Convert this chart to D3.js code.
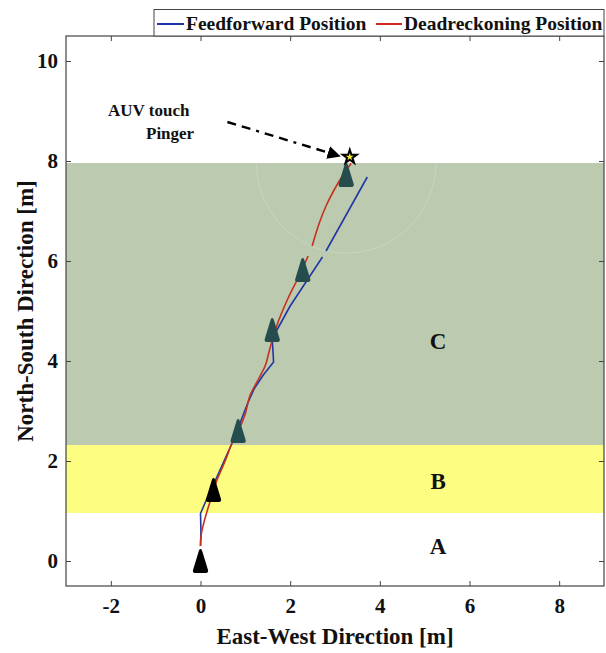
<!DOCTYPE html>
<html><head><meta charset="utf-8">
<script src="https://cdn.jsdelivr.net/npm/d3@7"></script>
<style>body{margin:0;background:#fff}svg{display:block}text{font-family:"Liberation Serif","Times New Roman",serif;font-weight:bold}</style>
</head><body><svg id="c" width="606" height="653"></svg>
<script>
const xTicks=[-2,0,2,4,6,8];
const yTicks=[0,2,4,6,8,10];
const zones=[{name:"A",y0:-0.5,y1:0.96,color:"#ffffff"},{name:"B",y0:0.96,y1:2.32,color:"#fdfd82"},{name:"C",y0:2.32,y1:7.96,color:"#bccbb0"}];
const zoneLabels=[{t:"C",x:5.3,y:4.4},{t:"B",x:5.3,y:1.6},{t:"A",x:5.3,y:0.3}];
const feedforward=[[0,0.3],[0.01,0.6],[0,0.95],[0.12,1.2],[0.3,1.55],[0.5,1.95],[0.7,2.35],[0.9,2.8],[1.05,3.15],[1.2,3.45],[1.4,3.72],[1.63,3.98],[1.6,4.45],[2.0,5.1],[2.72,6.08],null,[2.8,6.2],[3.72,7.68]];
const deadreckoning=[[0,0.3],[0.02,0.55],[0.1,0.85],[0.2,1.15],[0.36,1.6],[0.55,2.0],[0.7,2.35],[0.87,2.65],[1.0,2.95],[1.1,3.3],[1.3,3.65],[1.45,3.92],[1.54,4.22],[1.69,4.68],[1.95,5.25],[2.2,5.7],[2.4,6.1],null,[2.49,6.3],[2.65,6.76],[2.8,7.1],[2.98,7.42],[3.2,7.75],[3.36,7.95]];
const markers=[{x:0,y:0,c:"#000000"},{x:0.29,y:1.42,c:"#000000"},{x:0.84,y:2.6,c:"#264d4d"},{x:1.6,y:4.62,c:"#264d4d"},{x:2.28,y:5.82,c:"#264d4d"},{x:3.25,y:7.72,c:"#264d4d"}];
const pinger={x:3.33,y:8.08};
const arrow={x0:0.6,y0:8.78,x1:3.1,y1:8.1};
const ring={cx:3.25,cy:7.96,rx:2.0,ry:1.8};

const svg=d3.select("#c");
const L=66,R=604,T=36,B=586;
const x=d3.scaleLinear().domain([-3,9]).range([L,R]);
const y=d3.scaleLinear().domain([-0.5,10.5]).range([B,T]);

const defs=svg.append("defs");
defs.append("clipPath").attr("id","cp").append("rect").attr("x",L).attr("y",T).attr("width",R-L).attr("height",B-T);
defs.append("marker").attr("id","ah").attr("viewBox","0 0 10 10").attr("refX",9).attr("refY",5)
 .attr("markerWidth",5.5).attr("markerHeight",5.5).attr("orient","auto").attr("markerUnits","strokeWidth")
 .append("path").attr("d","M0,0L10,5L0,10Z").attr("fill","#000");

const g=svg.append("g").attr("clip-path","url(#cp)");
g.selectAll("rect.zone").data(zones).join("rect").attr("class","zone")
 .attr("x",L).attr("width",R-L).attr("y",d=>y(d.y1)).attr("height",d=>y(d.y0)-y(d.y1)).attr("fill",d=>d.color);

// faint ring
g.append("path").attr("fill","none").attr("stroke","#ffffff").attr("stroke-opacity",0.18).attr("stroke-width",1)
 .attr("d",d3.line().x(d=>x(d[0])).y(d=>y(d[1]))(d3.range(0,361,3).map(a=>[ring.cx+ring.rx*Math.cos(a*Math.PI/180),ring.cy+ring.ry*Math.sin(a*Math.PI/180)])));

const lineLin=d3.line().defined(d=>d!==null).x(d=>x(d[0])).y(d=>y(d[1]));
const lineCurve=d3.line().defined(d=>d!==null).x(d=>x(d[0])).y(d=>y(d[1])).curve(d3.curveCatmullRom);
g.append("path").datum(feedforward).attr("d",lineLin).attr("fill","none").attr("stroke","#2136a6").attr("stroke-width",1.6).attr("stroke-linejoin","round");
g.append("path").datum(deadreckoning).attr("d",lineCurve).attr("fill","none").attr("stroke","#c8301e").attr("stroke-width",1.6);

// triangle markers
const tri="M0,-12 C1,-12 1.5,-11 2,-9 L7.5,9 C8,11 7,12 5.5,12 L-5.5,12 C-7,12 -8,11 -7.5,9 L-2,-9 C-1.5,-11 -1,-12 0,-12Z";
g.selectAll("path.mk").data(markers).join("path").attr("class","mk")
 .attr("transform",d=>`translate(${x(d.x)},${y(d.y)})`).attr("d",tri).attr("fill",d=>d.c);

// zone labels
svg.selectAll("text.zl").data(zoneLabels).join("text").attr("class","zl")
 .attr("x",d=>x(d.x)).attr("y",d=>y(d.y)).attr("text-anchor","middle").attr("dominant-baseline","central")
 .attr("font-size",23).attr("fill","#111").text(d=>d.t);

// arrow annotation
svg.append("line").attr("x1",x(arrow.x0)).attr("y1",y(arrow.y0)).attr("x2",x(arrow.x1)).attr("y2",y(arrow.y1))
 .attr("stroke","#000").attr("stroke-width",2.4).attr("stroke-dasharray","9,6,9,6,3,6").attr("marker-end","url(#ah)");
svg.append("text").attr("x",108).attr("y",116).attr("font-size",17).attr("fill","#111").text("AUV touch");
svg.append("text").attr("x",146).attr("y",139).attr("font-size",17).attr("fill","#111").text("Pinger");

// star
svg.append("path").attr("transform",`translate(${x(pinger.x)},${y(pinger.y)})`)
 .attr("d",d3.symbol(d3.symbolStar,60)()).attr("fill","#f5ee2a").attr("stroke","#000").attr("stroke-width",2);

// frame and axes
svg.append("rect").attr("x",L).attr("y",T).attr("width",R-L).attr("height",B-T).attr("fill","none").attr("stroke","#444").attr("stroke-width",1.2);
const fmt=d=>String(d);
const xb=svg.append("g").attr("transform",`translate(0,${B})`).call(d3.axisBottom(x).tickValues(xTicks).tickSize(-5).tickPadding(12).tickFormat(fmt));
const xt=svg.append("g").attr("transform",`translate(0,${T})`).call(d3.axisTop(x).tickValues(xTicks).tickSize(-5).tickFormat(""));
const yl=svg.append("g").attr("transform",`translate(${L},0)`).call(d3.axisLeft(y).tickValues(yTicks).tickSize(-5).tickPadding(8).tickFormat(fmt));
const yr=svg.append("g").attr("transform",`translate(${R},0)`).call(d3.axisRight(y).tickValues(yTicks).tickSize(-5).tickFormat(""));
[xb,xt,yl,yr].forEach(a=>{a.select(".domain").remove();a.selectAll("line").attr("stroke","#444");
 a.selectAll("text").attr("font-size",21).attr("fill","#111").attr("font-family","Liberation Serif,serif").attr("font-weight","bold");});

svg.append("text").attr("x",(L+R)/2).attr("y",644).attr("text-anchor","middle").attr("font-size",23).attr("fill","#111").text("East-West Direction [m]");
svg.append("text").attr("transform",`translate(33,${(T+B)/2}) rotate(-90)`).attr("text-anchor","middle").attr("font-size",23).attr("fill","#111").text("North-South Direction [m]");

// legend
const lg=svg.append("g");
lg.append("rect").attr("x",154).attr("y",9.5).attr("width",450).attr("height",T-9.5).attr("fill","#fff").attr("stroke","#444").attr("stroke-width",1);
lg.append("line").attr("x1",157).attr("x2",184).attr("y1",24).attr("y2",24).attr("stroke","#2136a6").attr("stroke-width",2);
lg.append("text").attr("x",186).attr("y",30).attr("font-size",19.5).attr("fill","#111").text("Feedforward Position");
lg.append("line").attr("x1",376).attr("x2",402).attr("y1",24).attr("y2",24).attr("stroke","#d02a1e").attr("stroke-width",2);
lg.append("text").attr("x",404).attr("y",30).attr("font-size",19.5).attr("fill","#111").text("Deadreckoning Position");
</script></body></html>
